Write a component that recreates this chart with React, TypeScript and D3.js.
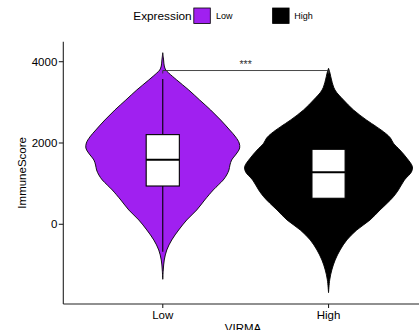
import React from "react";
import * as d3 from "d3";

// Groups on the x axis
const groups = ["Low", "High"];
const fills = ["#A020F0", "#000000"];

// Violin outlines: ImmuneScore levels and relative kernel density at each level
const lowScores = [4221, 4042, 3894, 3796, 3722, 3550, 3304, 3058, 2812, 2566, 2320, 2148, 2000, 1877, 1779, 1680, 1582, 1459, 1336, 1213, 1090, 967, 844, 598, 352, 106, -140, -386, -632, -878, -1124, -1353];
const lowDensity = [0, 0.01, 0.018, 0.036, 0.071, 0.167, 0.31, 0.44, 0.571, 0.69, 0.798, 0.869, 0.911, 0.917, 0.893, 0.857, 0.821, 0.801, 0.789, 0.762, 0.721, 0.662, 0.602, 0.5, 0.405, 0.286, 0.19, 0.107, 0.048, 0.018, 0.006, 0];

const highScores = [3838, 3715, 3550, 3304, 3058, 2812, 2566, 2401, 2239, 2123, 1993, 1828, 1624, 1417, 1287, 1090, 844, 679, 524, 352, 106, -140, -386, -632, -878, -1124, -1368, -1683];
const highDensity = [0, 0.018, 0.036, 0.077, 0.179, 0.298, 0.452, 0.571, 0.679, 0.738, 0.774, 0.851, 0.935, 1.0, 0.988, 0.905, 0.833, 0.774, 0.702, 0.614, 0.495, 0.337, 0.218, 0.138, 0.079, 0.039, 0.014, 0];

// Box plot summaries: [lower whisker, Q1, median, Q3, upper whisker]
const lowBox = [-674, 942, 1589, 2206, 3574];
const highBox = [-1000, 640, 1279, 1845, 3500];

// Significance bracket
const bracketScore = 3783;
const bracketLabel = "***";

const yTicks = [0, 2000, 4000];
const yDomain = [-1961, 4492];

const W = 419;
const H = 330;
const font = "'Liberation Sans', Arial, sans-serif";

export default function App() {
  const panel = { left: 63.3, right: 428, top: 41.7, bottom: 304 };
  const x = d3.scalePoint<string>().domain(groups).range([panel.left, panel.right]).padding(0.6);
  const y = d3.scaleLinear().domain(yDomain).range([panel.bottom, panel.top]);
  const step = x.step();
  const halfW = d3.scaleLinear().domain([0, 1]).range([0, step * 0.506]);
  const boxHalf = step * 0.1;

  const violins = [
    { g: "Low", scores: lowScores, dens: lowDensity, box: lowBox, fill: fills[0] },
    { g: "High", scores: highScores, dens: highDensity, box: highBox, fill: fills[1] },
  ];

  const axisColor = "#222";

  return (
    <svg width={W} height={H} style={{ position: "absolute", left: 0, top: 0, background: "#fff" }} fontFamily={font}>
      {/* legend */}
      <g>
        <text x={133.3} y={20} fontSize={11.8} fill="#000">Expression</text>
        <rect x={193.8} y={8} width={16.5} height={15.5} fill={fills[0]} stroke="#000" strokeWidth={0.8} />
        <text x={216} y={19} fontSize={9} fill="#000">Low</text>
        <rect x={272.6} y={8} width={16.5} height={15.5} fill={fills[1]} stroke="#000" strokeWidth={0.8} />
        <text x={294.3} y={19} fontSize={9} fill="#000">High</text>
      </g>

      {/* violins and boxes */}
      {violins.map((v) => {
        const cx = x(v.g)!;
        const pts = v.scores.map((s, i) => ({ s, d: v.dens[i] }));
        const area = d3
          .area<{ s: number; d: number }>()
          .y((p) => y(p.s))
          .x0((p) => cx - halfW(p.d))
          .x1((p) => cx + halfW(p.d))
          .curve(d3.curveCatmullRom.alpha(0.5));
        const [wLo, q1, med, q3, wHi] = v.box;
        return (
          <g key={v.g}>
            <path d={area(pts)!} fill={v.fill} stroke="#000" strokeWidth={0.9} />
            <line x1={cx} x2={cx} y1={y(wHi)} y2={y(q3)} stroke="#000" strokeWidth={1.1} />
            <line x1={cx} x2={cx} y1={y(q1)} y2={y(wLo)} stroke="#000" strokeWidth={1.1} />
            <rect x={cx - boxHalf} y={y(q3)} width={boxHalf * 2} height={y(q1) - y(q3)} fill="#fff" stroke="#000" strokeWidth={1.1} />
            <line x1={cx - boxHalf} x2={cx + boxHalf} y1={y(med)} y2={y(med)} stroke="#000" strokeWidth={2} />
          </g>
        );
      })}

      {/* significance bracket */}
      <g stroke="#333" strokeWidth={0.9} fill="none">
        <path d={`M${x("Low")},${y(bracketScore) + 3}V${y(bracketScore)}H${x("High")}V${y(bracketScore) + 3}`} />
      </g>
      <text x={(x("Low")! + x("High")!) / 2} y={y(bracketScore) - 3} fontSize={10.5} textAnchor="middle" fill="#333">{bracketLabel}</text>

      {/* y axis */}
      <line x1={panel.left} x2={panel.left} y1={panel.top} y2={panel.bottom} stroke={axisColor} strokeWidth={1.1} />
      {yTicks.map((t) => (
        <g key={t}>
          <line x1={panel.left - 4.5} x2={panel.left} y1={y(t)} y2={y(t)} stroke={axisColor} strokeWidth={1.1} />
          <text x={panel.left - 6} y={y(t)} dy="0.36em" fontSize={11.5} textAnchor="end" fill="#000">{t}</text>
        </g>
      ))}
      <text transform={`translate(25.5,${(panel.top + panel.bottom) / 2}) rotate(-90)`} fontSize={11.5} textAnchor="middle" fill="#000">ImmuneScore</text>

      {/* x axis */}
      <line x1={panel.left} x2={panel.right} y1={panel.bottom} y2={panel.bottom} stroke={axisColor} strokeWidth={1.1} />
      {groups.map((g) => (
        <g key={g}>
          <line x1={x(g)} x2={x(g)} y1={panel.bottom} y2={panel.bottom + 4} stroke={axisColor} strokeWidth={1.1} />
          <text x={x(g)} y={319.4} fontSize={11.5} textAnchor="middle" fill="#000">{g}</text>
        </g>
      ))}
      <text x={243} y={332} fontSize={11.5} textAnchor="middle" fill="#000">VIRMA</text>
    </svg>
  );
}
